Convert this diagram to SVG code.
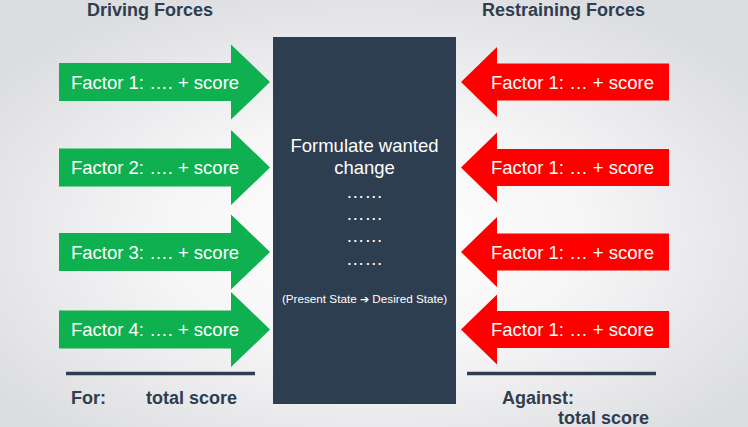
<svg xmlns="http://www.w3.org/2000/svg" xmlns:xlink="http://www.w3.org/1999/xlink" width="748" height="427" viewBox="0 0 748 427">
  <defs>
    <radialGradient id="bg" cx="50%" cy="55%" r="62%">
      <stop offset="0" stop-color="#ffffff"/>
      <stop offset="0.45" stop-color="#f6f6f7"/>
      <stop offset="1" stop-color="#dcdde0"/>
    </radialGradient>
    <path id="garrow" d="M59,-19 H231 V-37.5 L270,0 L231,37.5 V19 H59 Z"/>
    <path id="rarrow" d="M669,-18.5 H497 V-35 L461,0 L497,35 V18.5 H669 Z"/>
  </defs>
  <style>
    .title { font-family: "Liberation Sans", Arial, sans-serif; font-weight: bold; font-size: 18px; fill: #2e3d4f; }
    .flabel { font-family: "Liberation Sans", Arial, sans-serif; font-size: 18.5px; fill: #ffffff; }
    .green { fill: #0fb050; }
    .red { fill: #ff0000; }
    .box { fill: #2d3e50; }
    .boxtext { font-family: "Liberation Sans", Arial, sans-serif; font-size: 18.5px; fill: #ffffff; text-anchor: middle; }
    .small { font-family: "Liberation Sans", Arial, sans-serif; font-size: 11.7px; fill: #ffffff; text-anchor: middle; }
    .arr { font-family: "DejaVu Sans", sans-serif; font-size: 11px; }
    .sep { stroke: #2e3d4f; stroke-width: 3.5; fill: none; }
    .total { font-family: "Liberation Sans", Arial, sans-serif; font-weight: bold; font-size: 18px; fill: #2e3d4f; }
  </style>
  <rect width="748" height="427" fill="url(#bg)"/>

  <g id="title-driving"><text class="title" x="87" y="16">Driving Forces</text></g>
  <g id="title-restraining"><text class="title" x="482" y="16">Restraining Forces</text></g>

  <g id="change-box">
    <rect class="box" x="273" y="37" width="183" height="367"/>
    <text class="boxtext" x="364.5" y="152">Formulate wanted</text>
    <text class="boxtext" x="364.5" y="174">change</text>
    <text class="boxtext" x="364.5" y="198">……</text>
    <text class="boxtext" x="364.5" y="220">……</text>
    <text class="boxtext" x="364.5" y="242">……</text>
    <text class="boxtext" x="364.5" y="265">……</text>
    <text class="small" x="364.5" y="303">(Present State <tspan class="arr">➔</tspan> Desired State)</text>
  </g>

  <g id="driving-1"><use xlink:href="#garrow" class="green" transform="translate(0,82)"/><text class="flabel" x="71" y="88.5">Factor 1: …. + score</text></g>
  <g id="driving-2"><use xlink:href="#garrow" class="green" transform="translate(0,167.5)"/><text class="flabel" x="71" y="174">Factor 2: …. + score</text></g>
  <g id="driving-3"><use xlink:href="#garrow" class="green" transform="translate(0,252)"/><text class="flabel" x="71" y="258.5">Factor 3: …. + score</text></g>
  <g id="driving-4"><use xlink:href="#garrow" class="green" transform="translate(0,329.5)"/><text class="flabel" x="71" y="336">Factor 4: …. + score</text></g>

  <g id="restraining-1"><use xlink:href="#rarrow" class="red" transform="translate(0,82)"/><text class="flabel" x="491" y="88.5">Factor 1: … + score</text></g>
  <g id="restraining-2"><use xlink:href="#rarrow" class="red" transform="translate(0,167.5)"/><text class="flabel" x="491" y="174">Factor 1: … + score</text></g>
  <g id="restraining-3"><use xlink:href="#rarrow" class="red" transform="translate(0,252)"/><text class="flabel" x="491" y="258.5">Factor 1: … + score</text></g>
  <g id="restraining-4"><use xlink:href="#rarrow" class="red" transform="translate(0,329.5)"/><text class="flabel" x="491" y="336">Factor 1: … + score</text></g>

  <g id="connectors">
    <line class="sep" x1="66" y1="373.5" x2="255" y2="373.5"/>
    <line class="sep" x1="467" y1="373.5" x2="656" y2="373.5"/>
  </g>

  <g id="total-for">
    <text class="total" x="71" y="404">For:</text>
    <text class="total" x="146" y="404">total score</text>
  </g>
  <g id="total-against">
    <text class="total" x="502" y="404">Against:</text>
    <text class="total" x="558" y="424">total score</text>
  </g>
</svg>
